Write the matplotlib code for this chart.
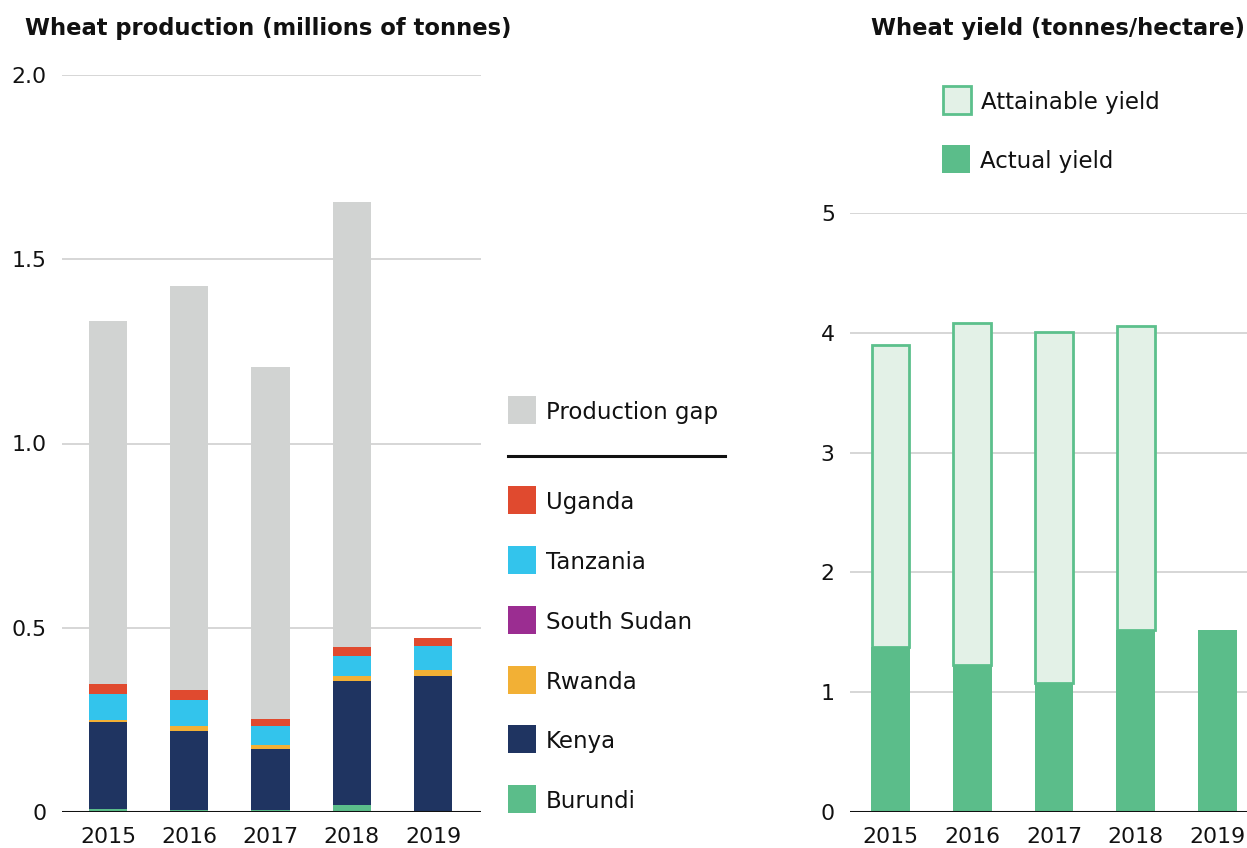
import matplotlib
matplotlib.use("Agg")
import matplotlib.pyplot as plt
from matplotlib.patches import Rectangle
from matplotlib.lines import Line2D
import numpy as np

plt.rcParams['font.family'] = ['DejaVu Sans']

years = ["2015", "2016", "2017", "2018", "2019"]

# Production stacks (millions of tonnes), bottom to top
burundi = [0.008, 0.005, 0.005, 0.019, 0.002]
kenya = [0.236, 0.215, 0.166, 0.336, 0.367]
rwanda = [0.006, 0.013, 0.011, 0.014, 0.017]
south_sudan = [0.0, 0.0, 0.0, 0.0, 0.0]
tanzania = [0.070, 0.071, 0.051, 0.054, 0.064]
uganda = [0.027, 0.027, 0.019, 0.025, 0.022]
production_gap = [0.985, 1.096, 0.956, 1.207, 0.0]

# Yield (tonnes/hectare)
actual_yield = [1.377, 1.227, 1.077, 1.52, 1.52]
attainable_yield = [3.90, 4.08, 4.01, 4.06, 0.0]

series = [
    ("Burundi", burundi, "#5bbd8a"),
    ("Kenya", kenya, "#1f3461"),
    ("Rwanda", rwanda, "#f2b035"),
    ("South Sudan", south_sudan, "#9b2d91"),
    ("Tanzania", tanzania, "#33c4ec"),
    ("Uganda", uganda, "#e04a2f"),
    ("Production gap", production_gap, "#d1d3d2"),
]

W, H = 1247, 848
fig = plt.figure(figsize=(W / 100, H / 100), dpi=100)

def fx(px):
    return px / W

def fy(py):
    return 1 - py / H

TEXT = "#111111"
GRID = "#d6d6d6"
TICKFS = 15.8
LEGFS = 16.5

# ---------- Left chart ----------
ax1 = fig.add_axes([fx(62), fy(812), fx(481) - fx(62), fy(75) - fy(812)])
x = np.arange(len(years))
bottom = np.zeros(len(years))
for name, vals, col in series:
    v = np.array(vals)
    ax1.bar(x, v, bottom=bottom, width=0.47, color=col, zorder=3, linewidth=0)
    bottom += v
ax1.set_xlim(-0.566, 4.59)
ax1.set_ylim(0, 2.0)
ax1.set_yticks([0, 0.5, 1.0, 1.5, 2.0])
ax1.set_yticklabels(["0", "0.5", "1.0", "1.5", "2.0"])
ax1.set_xticks(x)
ax1.set_xticklabels(years)

# ---------- Right chart ----------
ax2 = fig.add_axes([fx(850), fy(812), fx(1247) - fx(850), fy(213) - fy(812)])
x2 = np.arange(len(years))
att = np.array(attainable_yield)
act = np.array(actual_yield)
mask = att > 0
ax2.bar(x2[mask], (att - act)[mask], bottom=act[mask], width=0.46,
        color="#e3f1e7", edgecolor="#5cc08c", linewidth=2.0, zorder=3)
ax2.bar(x2, act, width=0.475, color="#5bbd8a", linewidth=0, zorder=4)
ax2.set_xlim(-0.495, 4.36)
ax2.set_ylim(0, 5)
ax2.set_yticks([0, 1, 2, 3, 4, 5])
ax2.set_xticks(x2)
ax2.set_xticklabels(years)

for ax in (ax1, ax2):
    for s in ax.spines.values():
        s.set_visible(False)
    ax.grid(axis="y", color=GRID, linewidth=1.4, zorder=0)
    ax.axhline(0, color="#111111", linewidth=2.2, zorder=6)
    ax.tick_params(axis="both", length=0, labelsize=TICKFS, colors=TEXT)
    ax.tick_params(axis="y", pad=11)
    ax.tick_params(axis="x", pad=11)
    ax.set_facecolor("none")

# ---------- Titles ----------
fig.text(fx(25), fy(28), "Wheat production (millions of tonnes)", ha="left", va="center",
         fontsize=16.3, fontweight="bold", color=TEXT)
fig.text(fx(1245), fy(28), "Wheat yield (tonnes/hectare)", ha="right", va="center",
         fontsize=16.3, fontweight="bold", color=TEXT)

# ---------- Legends ----------
SQ = 28
def legend_item(xp, yc, label, face, edge=None):
    r = Rectangle((fx(xp), fy(yc + SQ / 2)), fx(SQ), fy(yc - SQ / 2) - fy(yc + SQ / 2),
                  transform=fig.transFigure, facecolor=face,
                  edgecolor=edge if edge else "none", linewidth=2 if edge else 0)
    fig.add_artist(r)
    fig.text(fx(xp + 38), fy(yc), label, ha="left", va="center_baseline",
             fontsize=LEGFS, color=TEXT)

legend_order = [("Production gap", "#d1d3d2", 410),
                ("Uganda", "#e04a2f", 500),
                ("Tanzania", "#33c4ec", 560),
                ("South Sudan", "#9b2d91", 620),
                ("Rwanda", "#f2b035", 680),
                ("Kenya", "#1f3461", 739),
                ("Burundi", "#5bbd8a", 799)]
for lab, col, yc in legend_order:
    legend_item(508, yc, lab, col)
fig.add_artist(Line2D([fx(508), fx(725)], [fy(456), fy(456)], transform=fig.transFigure,
                      color="#111111", linewidth=2.2))

legend_item(943, 100, "Attainable yield", "#e3f1e7", "#5cc08c")
legend_item(942, 159, "Actual yield", "#5bbd8a")

fig.savefig("out.png", dpi=100)
